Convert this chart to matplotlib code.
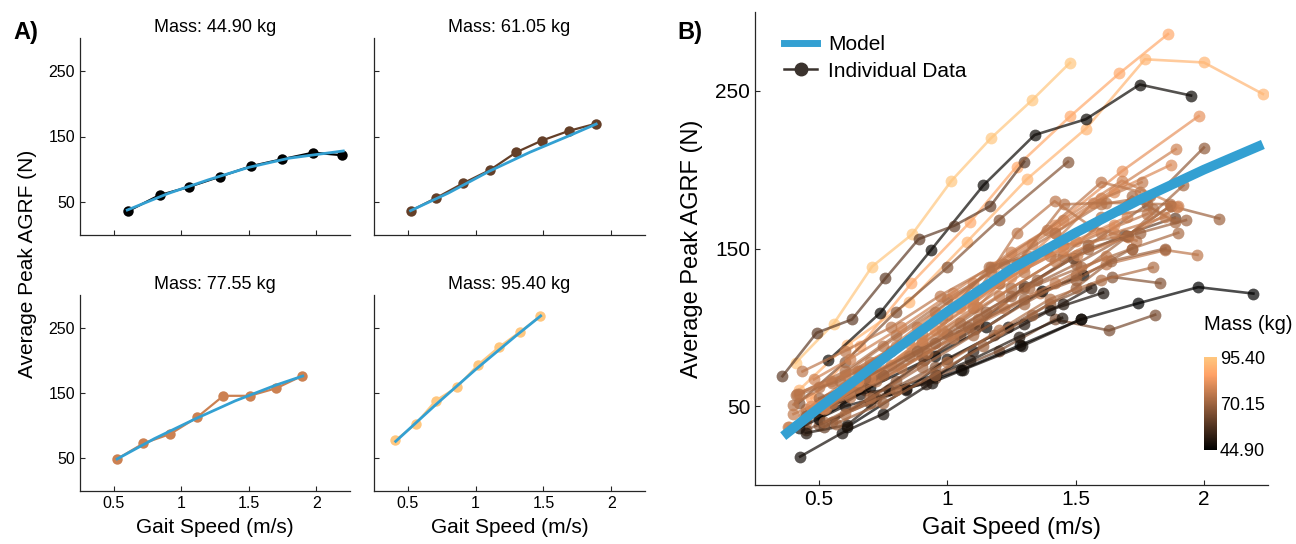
import matplotlib
matplotlib.use("Agg")
import matplotlib.pyplot as plt
import numpy as np
from matplotlib.lines import Line2D
from matplotlib.colors import Normalize
from matplotlib.cm import ScalarMappable

plt.rcParams['font.family'] = ['Liberation Sans', 'DejaVu Sans']

# ---- data ----
MASS_MIN = 44.90
MASS_MAX = 95.40
MASS_MID = 70.15

# panel A: four example subjects
A_MASS = [44.90, 61.05, 77.55, 95.40]
A_SPEED = [
    [0.609, 0.839, 1.054, 1.285, 1.52, 1.745, 1.978, 2.193],
    [0.52, 0.71, 0.91, 1.106, 1.30, 1.49, 1.69, 1.886],
    [0.525, 0.72, 0.918, 1.116, 1.312, 1.507, 1.705, 1.896],
    [0.408, 0.557, 0.706, 0.862, 1.016, 1.17, 1.329, 1.478],
]
A_FORCE = [
    [36.7, 60.7, 73.0, 88.8, 105.0, 115.3, 125.5, 121.4],
    [36.7, 56.6, 79.0, 99.0, 126.0, 143.9, 158.7, 169.4],
    [49.0, 72.9, 87.2, 112.6, 145.7, 145.7, 157.4, 176.2],
    [77.5, 102.4, 138.5, 158.9, 193.0, 220.0, 243.9, 267.8],
]
A_MODEL_SPEED = [
    [0.6, 0.9, 1.2, 1.5, 1.8, 2.2],
    [0.52, 0.8, 1.1, 1.4, 1.7, 1.89],
    [0.525, 0.8, 1.1, 1.4, 1.7, 1.9],
    [0.41, 0.7, 1.0, 1.3, 1.48],
]
A_MODEL_FORCE = [
    [38, 63, 84, 103, 117, 128],
    [37, 64, 97, 126, 152, 169],
    [49, 80, 110, 138, 162, 176],
    [76, 131, 186, 238, 268],
]

# panel B: all subjects
B_MASS = [95.40, 88, 91, 47, 60, 82, 78, 80, 68, 66, 70, 75, 66, 64, 44.90,
          48, 50, 49, 51, 46, 61.05, 77.55,
          74, 73, 76, 78, 74, 72, 75, 71, 75, 70, 73,
          76, 72, 75, 70, 78, 73, 75, 70, 80]
B_SPEED = [
    [0.408, 0.557, 0.706, 0.862, 1.016, 1.17, 1.329, 1.478],
    [0.47, 0.66, 0.86, 1.09, 1.27, 1.48, 1.67, 1.86],
    [0.42, 0.61, 0.85, 1.075, 1.31, 1.54, 1.77, 2.0, 2.23],
    [0.535, 0.737, 0.936, 1.14, 1.34, 1.54, 1.75, 1.95],
    [0.357, 0.49, 0.628, 0.758, 0.888, 1.027, 1.168, 1.299],
    [0.5, 0.72, 0.95, 1.18, 1.42, 1.68, 1.98],
    [0.45, 0.66, 0.88, 1.1, 1.33, 1.6, 1.89],
    [0.5, 0.72, 0.95, 1.2, 1.42, 1.65, 1.87],
    [0.55, 0.8, 1.05, 1.3, 1.55, 1.78, 2.0],
    [0.42, 0.6, 0.8, 1.0, 1.2, 1.47],
    [0.5, 0.75, 1.0, 1.25, 1.5, 1.7, 1.87, 2.06],
    [0.45, 0.68, 0.9, 1.12, 1.36, 1.62, 1.85, 1.975],
    [0.5, 0.72, 0.95, 1.18, 1.4, 1.64, 1.83],
    [0.45, 0.7, 0.95, 1.2, 1.42, 1.63, 1.81],
    [0.609, 0.839, 1.054, 1.285, 1.52, 1.745, 1.978, 2.193],
    [0.426, 0.589, 0.748, 0.94, 1.06, 1.29, 1.52],
    [0.448, 0.61, 0.773, 0.955, 1.09, 1.28, 1.447],
    [0.42, 0.6, 0.84, 1.0, 1.238, 1.40, 1.607],
    [0.45, 0.66, 0.917, 1.1, 1.3, 1.45, 1.56],
    [0.5, 0.7, 0.95, 1.15, 1.37, 1.53],
    [0.52, 0.71, 0.91, 1.106, 1.30, 1.49, 1.69, 1.886],
    [0.525, 0.72, 0.918, 1.116, 1.312, 1.507, 1.705, 1.896],
    [0.40, 0.55, 0.75, 0.95, 1.17, 1.42, 1.6, 1.79],
    [0.42, 0.6, 0.8, 1.0, 1.22, 1.45, 1.7, 1.87],
    [0.38, 0.55, 0.72, 0.9, 1.1, 1.3, 1.568, 1.757],
    [0.48, 0.62, 0.82, 1.02, 1.25, 1.45, 1.68, 1.9],
    [0.5, 0.65, 0.85, 1.05, 1.27, 1.453, 1.62, 1.867],
    [0.474, 0.65, 0.85, 1.05, 1.25, 1.45, 1.72, 1.887],
    [0.435, 0.6, 0.78, 0.97, 1.17, 1.39, 1.6, 1.75],
    [0.52, 0.7, 0.9, 1.1, 1.3, 1.5, 1.705, 1.92],
    [0.546, 0.7, 0.9, 1.1, 1.27, 1.418, 1.56, 1.737],
    [0.565, 0.75, 0.95, 1.14, 1.33, 1.5, 1.637, 1.85],
    [0.41, 0.58, 0.78, 0.98, 1.164, 1.39, 1.6, 1.8],
    [0.4, 0.58, 0.78, 0.98, 1.2, 1.42, 1.65, 1.85],
    [0.52, 0.72, 0.92, 1.12, 1.32, 1.52, 1.72, 1.9],
    [0.44, 0.62, 0.82, 1.02, 1.22, 1.42, 1.62],
    [0.55, 0.75, 0.95, 1.15, 1.35, 1.55, 1.75, 1.93],
    [0.383, 0.52, 0.7, 0.9, 1.1, 1.3, 1.5, 1.7],
    [0.6, 0.8, 1.0, 1.2, 1.4, 1.6, 1.8],
    [0.415, 0.6, 0.8, 1.0, 1.2, 1.4, 1.6, 1.78],
    [0.5, 0.68, 0.88, 1.08, 1.3, 1.5, 1.72],
    [0.47, 0.65, 0.85, 1.05, 1.25, 1.45, 1.65],
]
B_FORCE = [
    [77.5, 102.4, 138.5, 158.9, 193.0, 220.0, 243.9, 267.8],
    [55, 88, 128, 167, 202, 234, 261, 286],
    [60, 89, 116, 154, 194, 226, 270, 268, 248],
    [79, 109, 149, 190, 222, 232, 254, 247],
    [69, 96.5, 105, 131, 156, 164.5, 177, 205],
    [52, 78, 105, 138, 165, 199, 234],
    [48, 72, 100, 128, 153, 182, 213],
    [45, 70, 98, 128, 160, 186, 203],
    [40, 66, 95, 125, 152, 178, 214],
    [52, 78, 110, 138, 168, 205],
    [45, 70, 96, 120, 140, 158, 177, 169],
    [40, 60, 82, 102, 122, 140, 149, 146],
    [38, 55, 75, 95, 115, 132, 128],
    [35, 52, 68, 85, 105, 98, 108],
    [36.7, 60.7, 73.0, 88.8, 105.0, 115.3, 125.5, 121.4],
    [18, 33, 45, 65, 73, 88, 105],
    [33, 38, 60, 70, 79, 94, 106],
    [36, 50, 60, 80, 100, 111, 122],
    [44, 58, 64, 85, 102, 115, 125],
    [42, 62, 82, 100, 123, 133],
    [36.7, 56.6, 79.0, 99.0, 126.0, 143.9, 158.7, 169.4],
    [49.0, 72.9, 87.2, 112.6, 145.7, 145.7, 157.4, 176.2],
    [51, 65, 88, 110, 135, 160, 178, 183],
    [58, 72, 95, 118, 140, 152, 158, 177],
    [37, 52, 70, 90, 112, 135, 179, 192],
    [67, 80, 100, 122, 148, 168, 193, 177],
    [62, 72, 92, 115, 140, 178, 179, 178],
    [47, 62, 82, 103, 125, 145, 183, 167],
    [72, 85, 100, 120, 138, 162, 192, 186],
    [40, 55, 75, 95, 115, 133, 158, 190],
    [66, 78, 96, 118, 160, 180, 164, 155],
    [39, 52, 70, 88, 108, 125, 142, 150],
    [57, 66, 85, 105, 138, 150, 170, 175],
    [45, 58, 76, 98, 120, 142, 160, 170],
    [50, 66, 84, 105, 125, 138, 150, 160],
    [44, 56, 74, 93, 112, 128, 145],
    [52, 70, 90, 110, 130, 150, 160, 168],
    [37, 48, 68, 92, 115, 138, 155, 170],
    [45, 60, 78, 98, 118, 130, 138],
    [58, 70, 88, 108, 128, 145, 160, 172],
    [55, 68, 85, 100, 118, 130, 150],
    [50, 66, 90, 112, 132, 150, 165],
]
MODEL_SPEED = [0.36, 0.5, 0.75, 1.0, 1.25, 1.5, 1.75, 2.0, 2.23]
MODEL_FORCE = [31, 49, 80, 110, 137, 160, 181, 200, 216]

MODEL_COLOR = '#33a0d2'
AXIS_COLOR = '#262626'

cmap = plt.get_cmap('copper')
norm = Normalize(MASS_MIN, MASS_MAX)


def style_axes(ax, tick_size):
    ax.spines['top'].set_visible(False)
    ax.spines['right'].set_visible(False)
    for side in ('left', 'bottom'):
        ax.spines[side].set_color(AXIS_COLOR)
        ax.spines[side].set_linewidth(0.9)
    ax.tick_params(direction='in', length=3.5, width=0.8, color=AXIS_COLOR,
                   labelsize=tick_size, labelcolor='black')


fig = plt.figure(figsize=(12.96, 5.44), dpi=100)
W, H = 1296.0, 544.0

# ---- panel A ----
a_boxes = [(80, 38, 350, 235), (374, 38, 645, 235),
           (80, 295, 350, 491), (374, 295, 645, 491)]
for i, (x0, y0, x1, y1) in enumerate(a_boxes):
    ax = fig.add_axes([x0 / W, 1 - y1 / H, (x1 - x0) / W, (y1 - y0) / H])
    col = cmap(norm(A_MASS[i]))
    ax.plot(A_SPEED[i], A_FORCE[i], '-o', color=col, lw=1.6, ms=7.5, mec='none')
    ax.plot(A_MODEL_SPEED[i], A_MODEL_FORCE[i], color=MODEL_COLOR, lw=2.0)
    ax.set_xlim(0.25, 2.25)
    ax.set_ylim(0, 300)
    ax.set_xticks([0.5, 1, 1.5, 2])
    ax.set_xticklabels(['0.5', '1', '1.5', '2'])
    ax.set_yticks([50, 150, 250])
    style_axes(ax, 11.5)
    ax.set_title('Mass: %.2f kg' % A_MASS[i], fontsize=13, pad=4)
    if i < 2:
        ax.tick_params(labelbottom=False)
    else:
        ax.set_xlabel('Gait Speed (m/s)', fontsize=15, labelpad=5)
    if i % 2 == 1:
        ax.tick_params(labelleft=False)

fig.text(28 / W, 1 - 264 / H, 'Average Peak AGRF (N)', rotation=90,
         ha='center', va='center', fontsize=15)
fig.text(13 / W, 1 - 39 / H, 'A)', fontsize=17, fontweight='bold', va='baseline')

# ---- panel B ----
axb = fig.add_axes([755 / W, 1 - 485 / H, 513 / W, 473 / H])
for m, s, f in zip(B_MASS, B_SPEED, B_FORCE):
    axb.plot(s, f, '-o', color=cmap(norm(m)), alpha=0.7, lw=1.9, ms=8.5, mec='none')
axb.plot(MODEL_SPEED, MODEL_FORCE, color=MODEL_COLOR, lw=7, solid_capstyle='butt')
axb.set_xlim(0.25, 2.25)
axb.set_ylim(0, 300)
axb.set_xticks([0.5, 1, 1.5, 2])
axb.set_xticklabels(['0.5', '1', '1.5', '2'])
axb.set_yticks([50, 150, 250])
style_axes(axb, 15)
axb.set_xlabel('Gait Speed (m/s)', fontsize=17, labelpad=6)

handles = [Line2D([], [], color=MODEL_COLOR, lw=5),
           Line2D([], [], color='#3b332e', lw=1.8, marker='o', ms=9)]
axb.legend(handles, ['Model', 'Individual Data'], loc='upper left',
           bbox_to_anchor=(0.02, 0.99), frameon=False, fontsize=15,
           handlelength=1.6, handletextpad=0.5, labelspacing=0.35)

fig.text(692 / W, 1 - 248.5 / H, 'Average Peak AGRF (N)', rotation=90,
         ha='center', va='center', fontsize=17)
fig.text(677 / W, 1 - 39 / H, 'B)', fontsize=17, fontweight='bold', va='baseline')

# colorbar
cax = fig.add_axes([1204 / W, 1 - 450 / H, 13 / W, 93 / H])
cb = fig.colorbar(ScalarMappable(norm=norm, cmap=cmap), cax=cax,
                  ticks=[MASS_MIN, MASS_MID, MASS_MAX])
cb.ax.set_yticklabels(['%.2f' % MASS_MIN, '%.2f' % MASS_MID, '%.2f' % MASS_MAX])
cb.outline.set_visible(False)
cb.ax.tick_params(length=0, labelsize=13, pad=2)
fig.text(1204 / W, 1 - 325 / H, 'Mass (kg)', ha='left', va='center', fontsize=14.5)

fig.savefig('out.png', dpi=100)
